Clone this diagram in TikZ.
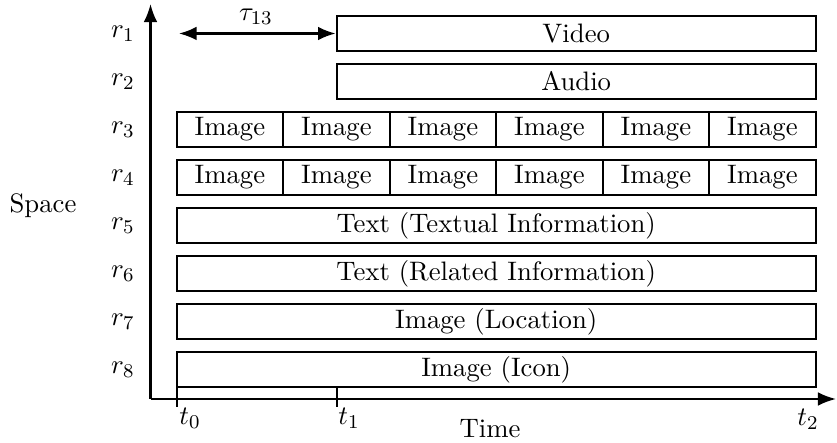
\documentclass[tikz,border=0pt]{standalone}
\usetikzlibrary{arrows.meta}
\begin{document}
\begin{tikzpicture}[x=0.41pt,y=-0.41pt,
  line width=0.9pt,
  font=\fontsize{10.95}{13.6}\selectfont,
  tip/.style={-{Latex[length=7.4pt,width=5.6pt]}},
  tips/.style={{Latex[length=7.2pt,width=5.6pt]}-{Latex[length=7.2pt,width=5.6pt]}},
  bar/.style={draw,line width=0.9pt,rectangle,inner sep=0pt,minimum height=14.35pt},
  fullbar/.style={bar,minimum width=262pt},
  halfbar/.style={bar,minimum width=196.4pt},
  cell/.style={bar,minimum width=43.67pt},
  rlab/.style={inner sep=0pt}]
\useasboundingbox (0,0) rectangle (837,443);

% axes
\coordinate (origin) at (150.5,399);
\coordinate (ytop) at (150.5,4);
\coordinate (xend) at (836,399);
\draw[tip] (origin) -- (ytop);
\draw[tip] (origin) -- (xend);

% row labels
\foreach \i in {1,...,8}
  \node[rlab] (r\i) at (123,{33.5+48*(\i-1)}) {$r_{\i}$};

% rows 1 and 2 start at t1
\node[halfbar] (video) at (576.2,33.5) {Video};
\node[halfbar] (audio) at (576.2,81.5) {Audio};

% image rows 3 and 4
\foreach \row/\yy in {3/129.5,4/177.5}
  \foreach \k in {1,...,6}
    \node[cell] (img\row\k) at ({176.7+106.5*(\k-0.5)},\yy) {Image};

% full-width rows
\node[fullbar] (text5) at (496.2,225.5) {Text (Textual Information)};
\node[fullbar] (text6) at (496.2,273.5) {Text (Related Information)};
\node[fullbar] (loc7) at (496.2,321.5) {Image (Location)};
\node[fullbar] (icon8) at (496.2,369.5) {Image (Icon)};

% delay between row 1 and row 3
\coordinate (tstart) at (179,33.5);
\draw[tips] (tstart) -- (video.west);
\node (tau) at (256,17) {$\tau_{13}$};

% time ticks
\coordinate (t0top) at (176.7,387);
\coordinate (t0bot) at (176.7,407);
\coordinate (t1top) at (336.7,387);
\coordinate (t1bot) at (336.7,407);
\draw (t0top) -- (t0bot);
\draw (t1top) -- (t1bot);
\node (t0) at (190,418) {$t_0$};
\node (t1) at (349,418) {$t_1$};
\node (t2) at (808,419) {$t_2$};

% axis titles
\node (space) at (43,206) {Space};
\node (time) at (490,429) {Time};
\end{tikzpicture}
\end{document}
